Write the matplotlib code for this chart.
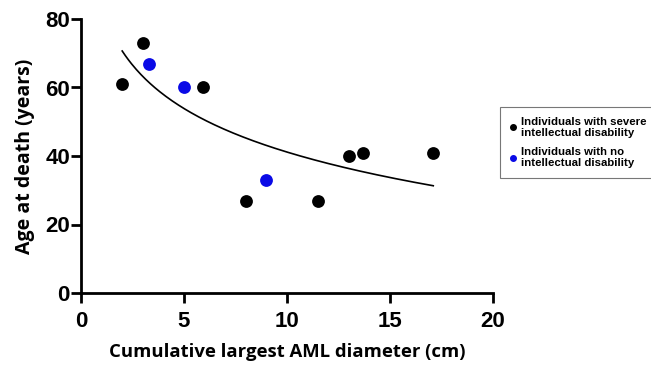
import numpy as np
import matplotlib
matplotlib.use("Agg")
import matplotlib.pyplot as plt
from matplotlib.lines import Line2D

plt.rcParams['font.family'] = ['Liberation Sans', 'DejaVu Sans']

severe_x = [2.0, 3.0, 5.9, 8.0, 11.5, 13.0, 13.7, 17.1]
severe_y = [61, 73, 60, 27, 27, 40, 41, 41]
none_x = [3.3, 5.0, 9.0]
none_y = [67, 60, 33]
x_ticks = [0, 5, 10, 15, 20]
y_ticks = [0, 20, 40, 60, 80]
labels = ["Individuals with severe\nintellectual disability",
          "Individuals with no\nintellectual disability"]

W, H = 651, 365
fig = plt.figure(figsize=(W/100, H/100), dpi=100)
ax = fig.add_axes([81/W, 1-293/H, (493-81)/W, (293-19)/H])

ax.scatter(severe_x, severe_y, s=85, color='black', zorder=3, linewidths=0)
ax.scatter(none_x, none_y, s=85, color='#0a0ae6', zorder=3, linewidths=0)

# logarithmic fit across all points
all_x = np.array(severe_x + none_x)
all_y = np.array(severe_y + none_y)
b, a = np.polyfit(np.log(all_x), all_y, 1)
xf = np.linspace(all_x.min(), all_x.max(), 200)
ax.plot(xf, a + b*np.log(xf), color='black', lw=1.2, zorder=2)

ax.set_xlim(0, 20)
ax.set_ylim(0, 80)
ax.set_xticks(x_ticks)
ax.set_yticks(y_ticks)
for s in ['top', 'right']:
    ax.spines[s].set_visible(False)
for s in ['left', 'bottom']:
    ax.spines[s].set_linewidth(2)
ax.tick_params(width=2, length=7, labelsize=16)
ax.tick_params(axis='y', pad=1)
ax.tick_params(axis='x', pad=6)
for lab in ax.get_xticklabels() + ax.get_yticklabels():
    lab.set_fontweight('bold')
ax.set_xlabel("Cumulative largest AML diameter (cm)", fontsize=13.3, fontweight='bold',
              family=['Open Sans', 'DejaVu Sans'], labelpad=8)
ax.set_ylabel("Age at death (years)", fontsize=14, fontweight='bold',
              family=['Open Sans', 'DejaVu Sans'], labelpad=7)

handles = [Line2D([], [], marker='o', ls='', color='black', markersize=4),
           Line2D([], [], marker='o', ls='', color='#0a0ae6', markersize=4)]
leg = fig.legend(handles, labels, loc='upper left', bbox_to_anchor=(500/W, 1-107/H),
                 prop={'weight': 'bold', 'size': 8.2}, frameon=True, fancybox=False,
                 handlelength=0.6, handletextpad=0.4, borderpad=0.85, labelspacing=0.75,
                 borderaxespad=0)
leg.get_frame().set_edgecolor('#555555')
leg.get_frame().set_linewidth(0.8)

fig.savefig("out.png", dpi=100)
